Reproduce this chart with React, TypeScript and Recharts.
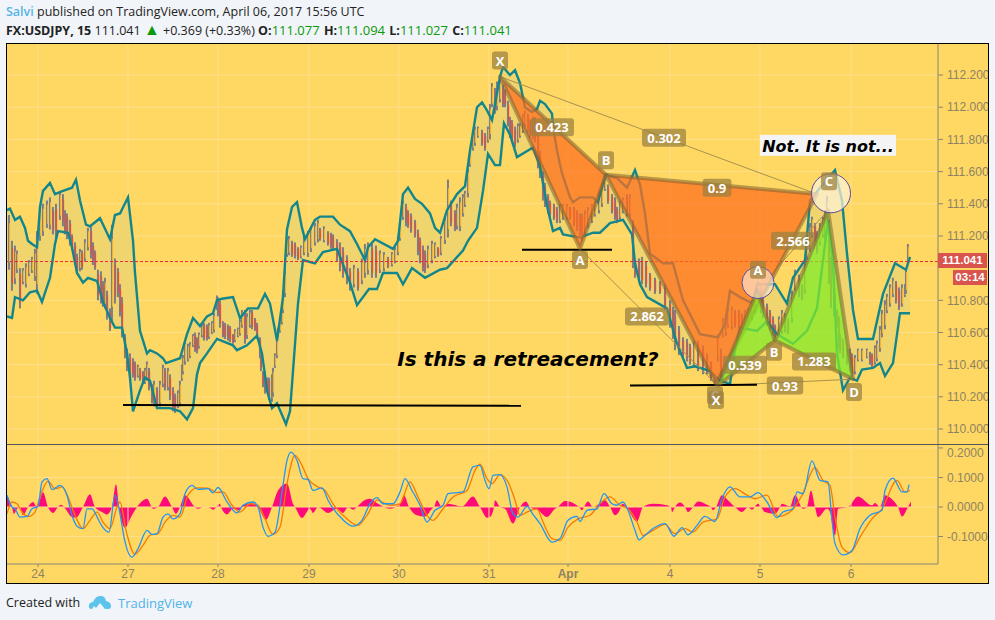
import React from "react";
import {
  ComposedChart,
  Area,
  Bar,
  Line,
  Scatter,
  XAxis,
  YAxis,
  ReferenceLine,
  ReferenceDot,
} from "recharts";

// x unit: bar number of the 15 minute series, roughly one bar per pixel
const xDomain: [number, number] = [0, 931];
const priceDomain: [number, number] = [109.907, 112.393];
const dayTicks = [31, 121, 211, 302, 392, 482, 561, 663, 753, 844];
const dayLabels = ["24", "27", "28", "29", "30", "31", "Apr", "4", "5", "6"];
const priceTicks = [110, 110.2, 110.4, 110.6, 110.8, 111, 111.2, 111.4, 111.6, 111.8, 112, 112.2];
// 111.000 sits behind the last price box
const priceLabelTicks = [110, 110.2, 110.4, 110.6, 110.8, 111.2, 111.4, 111.6, 111.8, 112, 112.2];
const macdTicks = [-0.1, 0, 0.1, 0.2];
const lastPrice = 111.041;

const upperBand: [number, number][] = [
  [0,111.36],[3,111.37],[8,111.30],[13,111.32],[18,111.25],[21,111.17],[25,111.15],[30,111.13],[33,111.38],[36,111.48],
  [43,111.53],[48,111.46],[56,111.48],[65,111.50],[69,111.55],[73,111.42],[79,111.27],[83,111.26],[93,111.31],[103,111.18],
  [108,111.33],[113,111.34],[121,111.44],[126,111.17],[128,110.97],[133,110.61],[140,110.47],[143,110.49],[150,110.47],[156,110.44],
  [159,110.41],[173,110.44],[180,110.59],[186,110.69],[193,110.64],[200,110.70],[206,110.72],[210,110.80],[215,110.81],[226,110.82],
  [233,110.69],[241,110.75],[251,110.75],[258,110.84],[263,110.78],[270,110.55],[276,110.82],[280,111.24],[285,111.38],[290,111.41],
  [295,111.25],[298,111.18],[308,111.30],[313,111.32],[326,111.32],[333,111.27],[343,111.23],[350,111.15],[358,111.05],[361,111.13],
  [368,111.18],[386,111.12],[391,111.17],[396,111.46],[401,111.50],[408,111.43],[415,111.40],[423,111.34],[428,111.25],[433,111.22],
  [440,111.36],[450,111.46],[458,111.51],[463,111.73],[470,112.00],[475,112.03],[480,111.98],[485,111.92],[493,112.19],[496,112.25],
  [503,112.20],[508,112.23],[513,112.15],[518,112.00],[525,111.97],[530,111.99],[533,112.04],[538,112.02],[545,111.96],[546,111.88],
  [550,111.73],[555,111.59],[563,111.44],[566,111.41],[573,111.44],[586,111.44],[591,111.41],[596,111.53],[598,111.58],[610,111.56],
  [620,111.50],[628,111.61],[633,111.52],[638,111.34],[643,111.09],[656,111.03],[666,111.03],[676,110.80],[693,110.59],[711,110.57],
  [718,110.65],[723,110.86],[733,110.82],[746,110.78],[750,110.90],[768,110.90],[780,110.78],[786,110.94],[798,111.05],[803,111.42],
  [813,111.50],[828,111.61],[835,111.42],[840,111.09],[846,110.74],[851,110.56],[866,110.56],[876,110.84],[888,111.03],[899,110.99],[903,111.07],
];

const lowerBand: [number, number][] = [
  [0,110.70],[5,110.69],[8,110.82],[16,110.80],[23,110.85],[30,110.86],[35,110.79],[43,110.94],[48,111.15],[51,111.23],
  [61,111.22],[65,111.13],[70,110.97],[76,110.91],[81,110.94],[90,110.92],[96,110.79],[103,110.69],[108,110.63],[115,110.63],
  [120,110.47],[123,110.32],[126,110.11],[133,110.24],[138,110.32],[143,110.30],[150,110.13],[156,110.13],[163,110.13],[173,110.11],
  [180,110.06],[186,110.13],[190,110.34],[193,110.41],[200,110.47],[210,110.56],[226,110.52],[230,110.49],[240,110.52],[250,110.58],
  [255,110.47],[260,110.24],[265,110.13],[270,110.16],[279,110.03],[283,110.11],[286,110.36],[291,110.78],[296,111.05],[308,111.03],
  [316,111.10],[330,111.12],[343,110.91],[350,110.77],[362,110.87],[370,110.87],[376,110.97],[390,110.97],[396,110.90],[405,111.00],
  [418,110.94],[433,110.99],[440,111.00],[456,111.11],[461,111.17],[470,111.25],[476,111.48],[481,111.71],[488,111.64],[493,111.64],
  [497,111.90],[503,111.83],[510,111.69],[526,111.75],[533,111.63],[541,111.36],[546,111.23],[553,111.25],[556,111.21],[573,111.19],
  [586,111.22],[593,111.22],[603,111.28],[616,111.30],[625,111.21],[628,111.03],[633,110.90],[640,110.82],[660,110.75],[670,110.53],
  [680,110.38],[688,110.39],[703,110.36],[713,110.30],[723,110.28],[728,110.49],[733,110.63],[750,110.61],[760,110.67],[770,110.59],
  [786,110.53],[800,110.61],[810,110.75],[816,111.05],[821,111.30],[826,111.03],[830,110.47],[836,110.24],[843,110.32],[850,110.30],
  [855,110.37],[866,110.38],[873,110.41],[878,110.33],[886,110.41],[893,110.72],[903,110.72],
];

// bar, high, low
const candleRanges: [number, number, number][] = [
  [2,111.33,110.99],[5,111.17,110.86],[10,111.11,110.97],[13,111.00,110.75],[16,111.00,110.90],[25,111.07,110.97],[30,111.23,110.84],[33,111.38,111.17],
  [40,111.42,111.25],[46,111.38,111.21],[53,111.48,111.30],[58,111.36,111.21],[63,111.30,111.14],[65,111.21,111.11],[70,111.09,110.97],[75,111.11,110.99],
  [81,111.25,111.11],[88,111.11,110.99],[91,110.99,110.80],[98,110.94,110.75],[103,110.75,110.61],[105,111.27,110.67],[111,111.00,110.82],[115,110.82,110.57],
  [118,110.59,110.44],[123,110.47,110.30],[126,110.44,110.32],[131,110.40,110.32],[136,110.36,110.28],[140,110.42,110.30],[145,110.28,110.16],[150,110.26,110.13],
  [156,110.40,110.26],[161,110.38,110.24],[166,110.26,110.11],[171,110.24,110.13],[175,110.40,110.30],[178,110.55,110.40],[181,110.53,110.42],[186,110.59,110.51],
  [190,110.57,110.47],[195,110.65,110.57],[200,110.65,110.55],[205,110.67,110.59],[210,110.83,110.74],[213,110.80,110.63],[216,110.67,110.57],[221,110.65,110.55],
  [226,110.59,110.53],[231,110.63,110.57],[235,110.74,110.63],[238,110.74,110.53],[243,110.74,110.63],[248,110.69,110.61],[253,110.57,110.44],[256,110.36,110.26],
  [260,110.32,110.24],[265,110.34,110.17],[268,110.47,110.38],[271,110.63,110.57],[275,110.74,110.65],[278,110.99,110.82],[280,111.19,111.07],[285,111.17,111.07],
  [291,111.13,111.05],[301,111.23,111.07],[308,111.28,111.14],[313,111.25,111.17],[321,111.23,111.14],[326,111.21,111.11],[336,111.13,110.94],[343,111.00,110.86],
  [351,111.00,110.86],[358,111.15,110.94],[365,111.15,110.94],[373,111.11,110.97],[381,111.07,111.00],[388,111.13,111.03],[393,111.28,111.17],[396,111.42,111.30],
  [401,111.36,111.25],[408,111.30,111.19],[413,111.19,111.03],[418,111.11,110.97],[425,111.17,111.03],[431,111.13,111.07],[438,111.32,111.15],[441,111.55,111.19],
  [448,111.36,111.23],[453,111.44,111.23],[458,111.48,111.38],[463,111.73,111.63],[466,111.86,111.73],[471,111.88,111.81],[478,111.84,111.73],[481,111.88,111.78],
  [485,112.15,112.00],[488,112.12,111.96],[493,112.17,112.03],[498,112.11,112.00],[503,111.94,111.81],[508,111.88,111.75],[513,111.90,111.81],[518,111.98,111.88],
  [523,111.92,111.81],[528,111.94,111.78],[533,111.73,111.56],[538,111.53,111.38],[543,111.42,111.32],[550,111.38,111.28],[556,111.40,111.30],[563,111.38,111.30],
  [570,111.36,111.23],[575,111.34,111.17],[581,111.38,111.25],[588,111.42,111.32],[595,111.53,111.38],[598,111.56,111.48],[605,111.46,111.34],[610,111.38,111.28],
  [616,111.44,111.34],[623,111.46,111.32],[628,111.05,110.94],[635,111.07,110.90],[643,110.97,110.86],[653,110.92,110.84],[663,110.80,110.63],[668,110.74,110.49],
  [676,110.57,110.44],[683,110.53,110.40],[691,110.55,110.36],[700,110.47,110.34],[708,110.32,110.28],[711,110.59,110.42],[716,110.69,110.57],[721,110.75,110.63],
  [728,110.74,110.63],[735,110.72,110.63],[741,110.75,110.65],[748,110.86,110.72],[751,110.92,110.80],[756,110.82,110.69],[763,110.74,110.61],[768,110.65,110.57],
  [775,110.74,110.59],[781,110.69,110.59],[788,110.99,110.86],[795,110.90,110.80],[800,111.19,111.05],[805,111.32,111.19],[810,111.23,111.09],[816,111.32,111.19],
  [820,111.45,111.21],[824,111.07,110.75],[830,110.74,110.63],[833,110.59,110.47],[840,110.50,110.40],[845,110.47,110.32],[851,110.50,110.42],[860,110.50,110.44],
  [865,110.47,110.38],[870,110.55,110.42],[875,110.74,110.57],[880,110.84,110.72],[886,110.94,110.82],[892,110.88,110.74],[898,110.90,110.82],[901,111.15,111.03],
];

// the candles between the ones above, read more roughly
const candleInBetween: [number, number, number][] = [
  [8,111.14,110.90],[19,111.03,110.88],[22,111.05,110.95],[28,111.12,110.92],[36,111.40,111.20],[43,111.44,111.24],[49,111.40,111.18],[56,111.46,111.26],[60,111.34,111.18],[68,111.16,111.03],
  [73,111.12,110.98],[78,111.18,111.04],[84,111.26,111.06],[86,111.16,111.02],[94,110.98,110.78],[96,110.92,110.76],[100,110.86,110.68],[108,111.06,110.78],[113,110.90,110.70],[120,110.50,110.36],
  [128,110.42,110.30],[133,110.38,110.30],[138,110.38,110.28],[142,110.38,110.24],[147,110.30,110.14],[153,110.30,110.14],[158,110.38,110.24],[163,110.34,110.18],[168,110.22,110.10],[173,110.30,110.14],
  [176,110.46,110.34],[183,110.54,110.44],[188,110.60,110.48],[192,110.60,110.50],[197,110.66,110.55],[202,110.66,110.56],[207,110.72,110.60],[211,110.82,110.70],[218,110.66,110.56],[223,110.64,110.54],
  [228,110.62,110.54],[233,110.68,110.58],[240,110.72,110.56],[245,110.74,110.62],[250,110.66,110.56],[254,110.50,110.36],[258,110.36,110.22],[262,110.32,110.18],[266,110.38,110.20],[270,110.56,110.44],
  [273,110.68,110.60],[276,110.86,110.72],[282,111.20,111.08],[288,111.16,111.06],[294,111.14,111.06],[297,111.20,111.08],[304,111.26,111.10],[311,111.30,111.16],[317,111.26,111.16],[324,111.22,111.12],
  [330,111.18,111.04],[333,111.16,110.98],[340,111.08,110.90],[347,111.02,110.88],[355,111.06,110.90],[361,111.16,110.96],[369,111.14,110.94],[377,111.10,110.98],[385,111.10,111.01],[391,111.20,111.08],
  [399,111.40,111.26],[404,111.34,111.22],[411,111.24,111.08],[416,111.14,110.98],[421,111.14,111.00],[428,111.16,111.06],[434,111.20,111.08],[444,111.42,111.26],[450,111.40,111.24],[456,111.46,111.32],
  [461,111.62,111.44],[468,111.88,111.76],[475,111.86,111.76],[483,112.02,111.80],[490,112.16,111.98],[496,112.14,112.00],[501,112.04,111.88],[505,111.92,111.78],[511,111.90,111.78],[516,111.96,111.84],
  [521,111.96,111.84],[526,111.94,111.80],[531,111.84,111.62],[536,111.60,111.42],[541,111.46,111.34],[547,111.40,111.30],[553,111.40,111.28],[560,111.40,111.30],[567,111.38,111.26],[573,111.34,111.20],
  [578,111.36,111.20],[585,111.40,111.28],[592,111.48,111.34],[601,111.52,111.40],[608,111.44,111.30],[613,111.42,111.30],[620,111.46,111.32],[626,111.30,111.00],[632,111.06,110.92],[639,111.04,110.88],
  [648,110.94,110.84],[658,110.90,110.74],[666,110.76,110.56],[672,110.64,110.46],[680,110.56,110.42],[687,110.55,110.38],[696,110.52,110.34],[704,110.42,110.30],[714,110.50,110.30],[719,110.72,110.58],
  [725,110.76,110.62],[732,110.74,110.62],[738,110.74,110.64],[745,110.80,110.68],[754,110.88,110.72],[760,110.78,110.64],[766,110.70,110.58],[772,110.70,110.58],[778,110.72,110.60],[785,110.86,110.66],
  [792,110.96,110.82],[798,111.04,110.84],[803,111.28,111.10],[808,111.28,111.14],[813,111.28,111.14],[818,111.36,111.18],[822,111.30,110.90],[827,110.90,110.70],[832,110.70,110.50],[836,110.56,110.44],
  [843,110.50,110.36],[848,110.46,110.34],[855,110.50,110.42],[863,110.48,110.40],[868,110.52,110.40],[873,110.64,110.48],[878,110.80,110.62],[883,110.90,110.76],[889,110.92,110.78],[895,110.90,110.76],[899,111.00,110.84],
];

const macdHist: [number, number][] = [
  [0,0.04],[5,0],[7,-0.023],[10,-0.006],[13,0],[16,-0.028],[21,0],[26,0.017],[30,0],[36,0.05],[41,0],[46,-0.02],[51,0],[54,0.008],[57,0],[65,-0.034],[69,-0.036],[76,0],
  [83,0.043],[88,0],[95,-0.017],[100,-0.025],[105,0],[109,0.077],[112,0],[118,-0.07],[125,-0.028],[130,0],[140,0.028],[146,-0.006],[151,0],[158,0.036],[165,0],[169,-0.023],
  [173,0],[178,0.04],[188,0],[191,-0.006],[196,0],[201,0],[206,-0.009],[213,0.011],[214,0],[220,-0.025],[226,-0.006],[233,-0.011],[235,0.006],[241,0.011],[246,0.013],[251,0],
  [259,-0.043],[265,0],[271,0.056],[280,0.08],[286,0.011],[288,0],[295,-0.037],[303,-0.006],[306,-0.02],[311,0],[321,-0.02],[330,-0.006],[336,-0.02],[341,0],[346,-0.009],[350,0],
  [355,0.017],[363,0.028],[371,0.011],[383,-0.006],[393,0.011],[397,0.04],[402,0],[410,-0.028],[418,-0.032],[425,-0.006],[427,0],[430,0.023],[435,0],[441,0.011],[455,0.002],[466,0.036],[473,0],
  [480,-0.036],[483,-0.034],[487,0],[488,0.023],[493,0],[498,-0.006],[506,-0.056],[513,0],[519,0.019],[523,0],[531,-0.011],[540,-0.034],[548,-0.006],[551,0],[558,0.02],[566,0.014],[572,0],
  [575,-0.011],[577,0],[581,0.019],[586,0],[598,0.023],[603,0],[608,-0.028],[614,0],[615,0.011],[620,0],[621,-0.006],[630,-0.049],[636,0],[646,0.011],[660,0.006],[664,0],[665,-0.017],[668,0],
  [673,0.015],[678,0],[681,-0.017],[686,0],[691,0.019],[701,0.006],[704,0],[706,-0.011],[709,0],[715,0.04],[721,0.023],[728,0],[735,-0.017],[741,0],[745,-0.009],[751,0.011],[754,0],[758,-0.017],
  [768,-0.023],[773,0],[775,0.011],[783,0.002],[788,0.04],[796,-0.006],[800,0],[804,0.056],[808,0],[811,-0.034],[820,-0.006],[823,-0.017],[828,-0.096],[831,-0.006],[841,0],[851,0.036],
  [865,0.006],[868,0.014],[873,0],[878,0.04],[886,0.023],[891,0],[895,-0.032],[901,0],[904,0.019],
];

const macdLine: [number, number][] = [
  [0,0.04],[5,0],[8,-0.006],[13,-0.034],[20,-0.032],[25,-0.006],[31,0.002],[35,0.085],[40,0.096],[45,0.059],[53,0.073],[60,0.04],[65,-0.028],[70,-0.065],[76,-0.073],[80,-0.006],[85,-0.006],
  [91,-0.04],[96,-0.07],[102,-0.085],[108,0.04],[113,-0.023],[117,-0.102],[125,-0.17],[131,-0.141],[140,-0.079],[145,-0.093],[150,-0.09],[156,-0.034],[161,-0.023],[166,-0.04],[173,-0.023],
  [178,0.045],[185,0.073],[191,0.06],[201,0.062],[206,0.048],[211,0.066],[220,0.017],[230,-0.02],[236,0.006],[246,0.017],[251,0],[256,-0.068],[261,-0.099],[268,-0.085],[275,0.051],[280,0.158],
  [284,0.186],[290,0.158],[296,0.096],[301,0.093],[306,0.056],[315,0.065],[321,0.023],[335,-0.04],[346,-0.065],[355,-0.045],[363,0.011],[370,0.032],[376,0.011],[386,0.011],[393,0.051],[398,0.096],
  [405,0.056],[413,0.006],[420,-0.051],[428,-0.011],[436,0.006],[441,0.045],[456,0.051],[466,0.136],[473,0.141],[478,0.09],[482,0.062],[486,0.107],[493,0.11],[500,0.068],[506,-0.023],[511,-0.034],
  [520,0.002],[526,-0.025],[533,-0.056],[545,-0.119],[553,-0.107],[561,-0.045],[570,-0.032],[573,-0.049],[580,-0.011],[590,-0.006],[597,0.045],[605,0.011],[610,0.006],[616,0.017],[621,-0.011],
  [628,-0.079],[632,-0.111],[638,-0.096],[646,-0.073],[658,-0.056],[667,-0.099],[675,-0.07],[681,-0.094],[690,-0.062],[698,-0.032],[708,-0.049],[715,0.028],[723,0.068],[733,0.034],[743,0.034],
  [751,0.049],[760,0.017],[770,-0.036],[776,-0.017],[786,-0.006],[790,0.051],[796,0.045],[805,0.156],[813,0.09],[821,0.085],[825,-0.045],[828,-0.124],[836,-0.162],[845,-0.147],[853,-0.073],
  [863,-0.028],[875,-0.011],[878,0.056],[886,0.098],[895,0.051],[900,0.051],[902,0.076],
];

const macdSignal: [number, number][] = [
  [0,-0.023],[5,0.017],[10,0.011],[15,-0.017],[21,-0.032],[28,-0.017],[33,0.034],[41,0.088],[48,0.062],[55,0.068],[61,0.034],[68,-0.028],[76,-0.073],[83,-0.045],[90,-0.017],[96,-0.051],[103,-0.073],
  [110,0],[113,0.017],[119,-0.079],[128,-0.16],[136,-0.13],[143,-0.096],[151,-0.09],[158,-0.051],[166,-0.028],[173,-0.034],[181,0.04],[190,0.065],[201,0.064],[210,0.049],[216,0.051],[225,0.006],
  [233,-0.017],[243,0.011],[251,0.006],[258,-0.04],[266,-0.093],[273,-0.068],[280,0.079],[288,0.175],[295,0.141],[301,0.096],[311,0.068],[318,0.056],[326,0.011],[340,-0.04],[351,-0.062],[360,-0.028],
  [370,0.023],[383,0.006],[393,0.011],[403,0.085],[411,0.034],[420,-0.028],[426,-0.045],[436,-0.006],[446,0.034],[460,0.056],[468,0.124],[473,0.145],[480,0.096],[485,0.079],[493,0.11],[501,0.085],
  [508,0.023],[513,-0.028],[520,-0.017],[530,-0.006],[536,-0.051],[545,-0.107],[553,-0.113],[561,-0.068],[571,-0.04],[583,-0.028],[593,0.011],[603,0.034],[613,0.006],[621,-0.006],[630,-0.051],
  [636,-0.096],[646,-0.079],[658,-0.059],[668,-0.09],[678,-0.073],[686,-0.085],[696,-0.051],[710,-0.04],[718,0.034],[728,0.062],[740,0.04],[748,0.028],[760,0.04],[771,-0.032],[785,-0.011],[795,0.04],
  [808,0.133],[816,0.09],[823,0.073],[828,-0.034],[835,-0.136],[843,-0.155],[853,-0.102],[865,-0.04],[875,-0.006],[890,0.09],[898,0.051],[903,0.056],
];

// harmonic patterns: X, A, B, C, D pivots
const orangePattern: [number, number][] = [[493,112.19],[573,111.12],[599,111.58],[709,110.28],[810,111.46]];
const greenPattern: [number, number][] = [[711,110.27],[750,110.86],[768,110.55],[821,111.36],[846,110.31]];

// text, bar, price
const patternLabels: [string, number, number][] = [
  ["X",493,112.29],["A",573,111.05],["B",599,111.67],["C",708,110.21],["X",709,110.18],
  ["0.423",545,111.875],["0.302",657,111.81],["0.9",710,111.5],["2.566",786,111.17],["2.862",640,110.7],
  ["A",751,110.99],["B",767,110.48],["C",822,111.54],["D",847,110.23],["0.539",738,110.4],["1.283",807,110.42],["0.93",778,110.27],
];

// from bar, from price, to bar, to price
const supportLines: [number, number, number, number][] = [
  [116,110.15,514,110.145],
  [515,111.115,605,111.115],
  [623,110.27,750,110.275],
];

const BG = "#ffd763";
const GRID = "#ffe08c";
const TEAL = "#13868c";
const AXIS = "#8a8578";
const TICK = "#8d8364";
const GREEN_TEXT = "#0a9a0a";
const FONT = "'Open Sans', sans-serif";

const rows = (list: [number, number][]) => list.map(([bar, price]) => ({ bar, price }));
const allCandles = [...candleRanges, ...candleInBetween].sort((a, b) => a[0] - b[0]);
const candleData = allCandles.map(([bar, high, low], i) => {
  const prev = allCandles[Math.max(i - 1, 0)];
  return { bar, range: [low, high], up: high + low >= prev[1] + prev[2] };
});
const bandRing = rows([...upperBand, ...[...lowerBand].reverse()]);

const polygon = (fill: string, stroke: string, strokeWidth: number) => (props: any) => {
  const d = "M" + props.points.map((p: any) => `${p.x},${p.y}`).join("L") + "Z";
  return <path d={d} fill={fill} stroke={stroke} strokeWidth={strokeWidth} strokeLinejoin="round" />;
};
const noPoint = () => <g />;

const CandleShape = (props: any) => {
  const { x, y, width, height, payload } = props;
  const cx = x + width / 2;
  return (
    <g>
      <rect x={cx - 1} y={y} width={2} height={height} fill="#7d7d85" />
      <rect x={cx} y={y + height * 0.15} width={1.2} height={height * 0.7} fill={payload.up ? "#f2b233" : "#e4503f"} />
    </g>
  );
};

const PatternLabel = (text: string) => (props: any) => {
  const w = text.length === 1 ? 16 : text.length * 7.6 + 6;
  return (
    <g>
      <rect x={props.cx - w / 2} y={props.cy - 9} width={w} height={18} rx={3} fill="#9a8040" fillOpacity={0.72} />
      <text x={props.cx} y={props.cy + 5} textAnchor="middle" fontFamily={FONT} fontSize={13} fontWeight={700} fill="#fff">
        {text}
      </text>
    </g>
  );
};

const Annotation = (text: string, boxed: boolean, fontSize: number) => (props: any) => (
  <g>
    {boxed && <rect x={props.cx - 68} y={props.cy - 11} width={136} height={21} fill="#f4f4f4" />}
    <text x={props.cx} y={props.cy + 6} textAnchor="middle" fontFamily="'DejaVu Sans'" fontSize={fontSize} fontWeight={700} fontStyle="italic" fill="#000">
      {text}
    </text>
  </g>
);

const patternPolys = (list: [number, number][], fill: string) => {
  const [x, a, b, c, d] = rows(list);
  const edge = "rgba(125,100,50,0.55)";
  return [
    <Scatter key="xab" data={[x, a, b]} dataKey="price" line={polygon(fill, edge, 4)} shape={noPoint} isAnimationActive={false} />,
    <Scatter key="bcd" data={[b, c, d]} dataKey="price" line={polygon(fill, edge, 4)} shape={noPoint} isAnimationActive={false} />,
    <ReferenceLine key="xd" segment={[{ x: x.bar, y: x.price }, { x: d.bar, y: d.price }]} stroke="#a8924e" strokeWidth={1} />,
    <ReferenceLine key="ac" segment={[{ x: a.bar, y: a.price }, { x: c.bar, y: c.price }]} stroke="#a8924e" strokeWidth={1} />,
  ];
};

const dayLabel = (value: number) => dayLabels[dayTicks.indexOf(value)];

const XTick = (props: any) => {
  const label = dayLabel(props.payload.value);
  return (
    <text x={props.x} y={props.y + 9} textAnchor="middle" fontFamily="'Liberation Sans'" fontSize={12} fontWeight={label === "Apr" ? 700 : 400} fill={TICK}>
      {label}
    </text>
  );
};

const Quote = ({ children }: any) => <span style={{ color: GREEN_TEXT, fontSize: 13, marginRight: 1 }}>{children}</span>;

export default function App() {
  return (
    <div style={{ position: "absolute", left: 0, top: 0, width: 995, height: 620, background: "#f1f4f8", fontFamily: FONT, overflow: "hidden" }}>
      <div style={{ position: "absolute", left: 6, top: 3, fontSize: 12.5, color: "#222", whiteSpace: "nowrap" }}>
        <span style={{ color: "#56b4e9", fontWeight: 600 }}>Salvi</span> published on TradingView.com, April 06, 2017 15:56 UTC
      </div>
      <div style={{ position: "absolute", left: 6, top: 21, fontSize: 12.5, color: "#222", whiteSpace: "nowrap" }}>
        <b>FX:USDJPY, 15</b> 111.041 <span style={{ color: GREEN_TEXT, fontSize: 16, lineHeight: "12px" }}>▲</span> +0.369 (+0.33%) <b>O:</b>
        <Quote>111.077</Quote> <b>H:</b><Quote>111.094</Quote> <b>L:</b>
        <Quote>111.027</Quote> <b>C:</b><Quote>111.041</Quote>
      </div>

      <div style={{ position: "absolute", left: 6, top: 43, width: 981, height: 539, border: "1px solid #000", background: BG }} />

      {/* grid and band fill sit in their own chart so candles and lines stay above them */}
      <div style={{ position: "absolute", left: 7, top: 44 }}>
        <ComposedChart width={981} height={400} margin={{ top: 0, right: 50, bottom: 0, left: 0 }}>
          <XAxis dataKey="bar" type="number" domain={xDomain} hide allowDataOverflow />
          <YAxis type="number" domain={priceDomain} hide allowDataOverflow />
          {dayTicks.map((t) => <ReferenceLine key={t} x={t} stroke={GRID} strokeWidth={1} />)}
          {priceTicks.map((t) => <ReferenceLine key={t} y={t} stroke={GRID} strokeWidth={1} />)}
          <Scatter data={bandRing} dataKey="price" line={polygon("#f0d56f", "none", 0)} shape={noPoint} isAnimationActive={false} />
        </ComposedChart>
      </div>

      <div style={{ position: "absolute", left: 7, top: 44 }}>
        <ComposedChart width={981} height={400} data={candleData} margin={{ top: 0, right: 0, bottom: 0, left: 0 }}>
          <XAxis dataKey="bar" type="number" domain={xDomain} ticks={dayTicks} hide allowDataOverflow />
          <YAxis
            orientation="right"
            width={50}
            type="number"
            domain={priceDomain}
            ticks={priceLabelTicks}
            tickFormatter={(v: number) => v.toFixed(3)}
            tick={{ fontSize: 12, fill: TICK, fontFamily: "'Liberation Sans'" }}
            tickSize={5}
            tickMargin={4}
            stroke={AXIS}
            allowDataOverflow
          />
          <Bar dataKey="range" barSize={2} shape={CandleShape} isAnimationActive={false} />
          <Line data={rows(upperBand)} dataKey="price" stroke={TEAL} strokeWidth={2.4} dot={false} isAnimationActive={false} />
          <Line data={rows(lowerBand)} dataKey="price" stroke={TEAL} strokeWidth={2.4} dot={false} isAnimationActive={false} />
          <ReferenceLine y={lastPrice} stroke="#e8283c" strokeWidth={1} strokeDasharray="3 2" />
          {patternPolys(orangePattern, "rgba(255,110,30,0.72)")}
          {patternPolys(greenPattern, "rgba(130,235,40,0.75)")}
          <ReferenceDot x={751} y={110.91} r={16} fill="#ffeee0" fillOpacity={0.6} stroke="#5a4a9a" strokeWidth={1} />
          <ReferenceDot x={824} y={111.465} r={19.5} fill="#fff4dc" fillOpacity={0.7} stroke="#5a4a9a" strokeWidth={1} />
          {supportLines.map(([x1, y1, x2, y2]) => (
            <ReferenceLine key={x1} segment={[{ x: x1, y: y1 }, { x: x2, y: y2 }]} stroke="#000" strokeWidth={2} />
          ))}
          {patternLabels.map(([text, bar, price], i) => (
            <ReferenceDot key={i} x={bar} y={price} r={1} shape={PatternLabel(text)} />
          ))}
          <ReferenceDot x={521} y={110.43} r={1} shape={Annotation("Is this a retreacement?", false, 20)} />
          <ReferenceDot x={821} y={111.76} r={1} shape={Annotation("Not. It is not...", true, 16)} />
        </ComposedChart>
      </div>

      <div style={{ position: "absolute", left: 938, top: 253, width: 49, height: 15, background: "#d8544c", color: "#fff", fontFamily: "'Liberation Sans'", fontSize: 11.5, fontWeight: 700, lineHeight: "15px", textAlign: "center" }}>111.041</div>
      <div style={{ position: "absolute", left: 953, top: 270, width: 34, height: 15, background: "#d8544c", color: "#fff", fontFamily: "'Liberation Sans'", fontSize: 11.5, fontWeight: 700, lineHeight: "15px", textAlign: "center" }}>03:14</div>

      <div style={{ position: "absolute", left: 7, top: 444, width: 981, height: 1, background: "#55555c" }} />

      <div style={{ position: "absolute", left: 7, top: 445 }}>
        <ComposedChart width={981} height={138} data={rows(macdHist)} margin={{ top: 0, right: 0, bottom: 0, left: 0 }}>
          <XAxis dataKey="bar" type="number" domain={xDomain} ticks={dayTicks} height={19} tick={XTick} tickSize={3} stroke={AXIS} allowDataOverflow />
          <YAxis
            orientation="right"
            width={50}
            type="number"
            domain={[-0.193, 0.21]}
            ticks={macdTicks}
            tickFormatter={(v: number) => v.toFixed(4)}
            tick={{ fontSize: 12, fill: TICK, fontFamily: "'Liberation Sans'" }}
            tickSize={5}
            tickMargin={4}
            stroke={AXIS}
            allowDataOverflow
          />
          {dayTicks.map((t) => <ReferenceLine key={t} x={t} stroke={GRID} strokeWidth={1} />)}
          {macdTicks.map((t) => <ReferenceLine key={t} y={t} stroke={GRID} strokeWidth={1} />)}
          <Area dataKey="price" type="monotone" fill="#ff0a78" fillOpacity={1} stroke="none" isAnimationActive={false} />
          <Line data={rows(macdSignal)} type="monotone" dataKey="price" stroke="#f57c00" strokeWidth={1.3} dot={false} isAnimationActive={false} />
          <Line data={rows(macdLine)} type="monotone" dataKey="price" stroke="#2196f3" strokeWidth={1.3} dot={false} isAnimationActive={false} />
        </ComposedChart>
      </div>

      <div style={{ position: "absolute", left: 6, top: 594, fontSize: 12.5, color: "#222" }}>Created with</div>
      <svg style={{ position: "absolute", left: 88, top: 594 }} width={24} height={16}>
        <path d="M1 11 Q2 8 5 8 Q8 1 13 2 Q17 2 18 7 Q23 8 23 12 Q23 15 20 15 L17 15 L12 9 L8 14 L6 12 L4 15 Q0 15 1 11Z" fill="#5cc3ec" />
      </svg>
      <div style={{ position: "absolute", left: 118, top: 594, fontSize: 13, color: "#4fb3e8" }}>TradingView</div>
    </div>
  );
}
